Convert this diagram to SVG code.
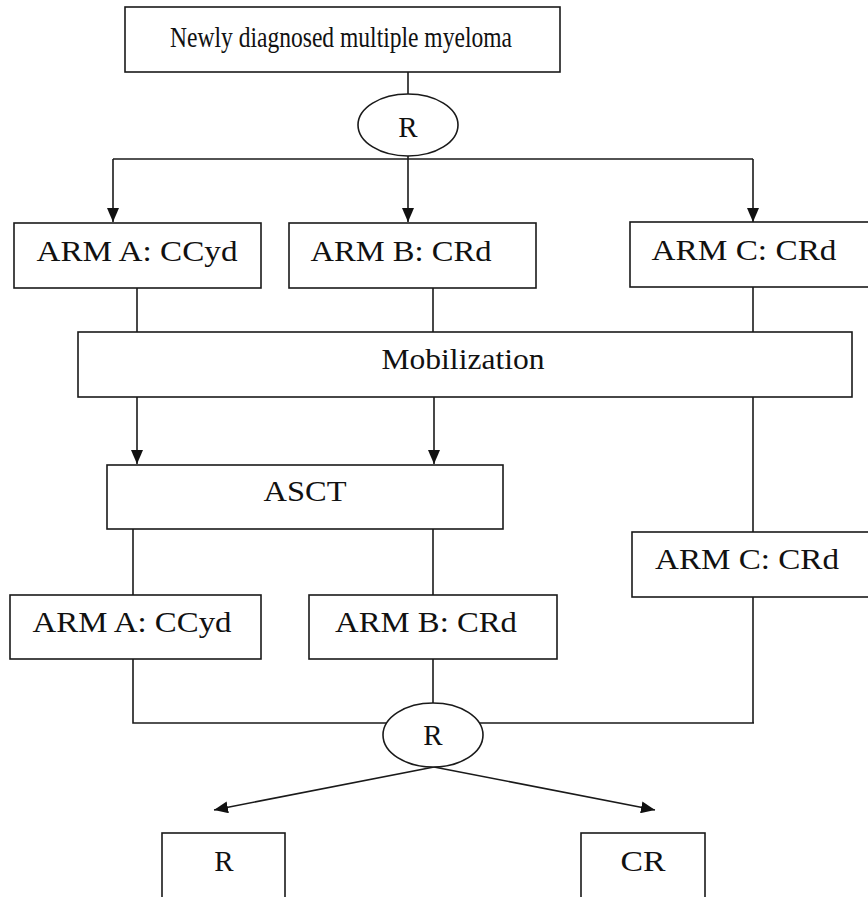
<svg xmlns="http://www.w3.org/2000/svg" width="868" height="897" viewBox="0 0 868 897">
<style>
.box{fill:#fff;stroke:#1a1a1a;stroke-width:1.6}
.ln{fill:none;stroke:#1a1a1a;stroke-width:1.6}
.t{font-family:"Liberation Serif","Times New Roman",serif;font-size:29px;fill:#111;text-anchor:middle}
</style>
<defs>
<marker id="ah" viewBox="0 0 14 12" refX="14" refY="6" markerWidth="14" markerHeight="12" markerUnits="userSpaceOnUse" orient="auto">
<path d="M0,0 L14,6 L0,12 Z" fill="#111"/>
</marker>
</defs>
<g id="connectors">
<line class="ln" x1="408" y1="72" x2="408" y2="94"/>
<line class="ln" x1="113" y1="159" x2="753" y2="159"/>
<line class="ln" x1="113" y1="159" x2="113" y2="222" marker-end="url(#ah)"/>
<line class="ln" x1="408" y1="156" x2="408" y2="222" marker-end="url(#ah)"/>
<line class="ln" x1="753" y1="159" x2="753" y2="222" marker-end="url(#ah)"/>
<line class="ln" x1="137" y1="288" x2="137" y2="332"/>
<line class="ln" x1="433" y1="288" x2="433" y2="332"/>
<line class="ln" x1="753" y1="287" x2="753" y2="332"/>
<line class="ln" x1="137" y1="397" x2="137" y2="464" marker-end="url(#ah)"/>
<line class="ln" x1="434" y1="397" x2="434" y2="464" marker-end="url(#ah)"/>
<line class="ln" x1="753" y1="397" x2="753" y2="532"/>
<line class="ln" x1="133" y1="529" x2="133" y2="595"/>
<line class="ln" x1="433" y1="529" x2="433" y2="595"/>
<line class="ln" x1="753" y1="597" x2="753" y2="723"/>
<polyline class="ln" points="133,659 133,723 754,723"/>
<line class="ln" x1="433" y1="659" x2="433" y2="703"/>
<line class="ln" x1="434" y1="767" x2="214" y2="810" marker-end="url(#ah)"/>
<line class="ln" x1="434" y1="767" x2="655" y2="810" marker-end="url(#ah)"/>
</g>
<g id="n-top"><rect class="box" x="125" y="7" width="435" height="65"/><text class="t" x="341" y="47" font-size="24" textLength="342" lengthAdjust="spacingAndGlyphs">Newly diagnosed multiple myeloma</text></g>
<g id="n-r1"><ellipse class="box" cx="408" cy="125" rx="50" ry="31"/><text class="t" x="408" y="137">R</text></g>
<g id="n-a1"><rect class="box" x="14" y="223" width="247" height="65"/><text class="t" x="137" y="261" textLength="201" lengthAdjust="spacingAndGlyphs">ARM A: CCyd</text></g>
<g id="n-b1"><rect class="box" x="289" y="223" width="247" height="65"/><text class="t" x="401" y="261" textLength="181" lengthAdjust="spacingAndGlyphs">ARM B: CRd</text></g>
<g id="n-c1"><rect class="box" x="630" y="222" width="245" height="65"/><text class="t" x="744" y="260" textLength="185" lengthAdjust="spacingAndGlyphs">ARM C: CRd</text></g>
<g id="n-mob"><rect class="box" x="78" y="332" width="774" height="65"/><text class="t" x="463" y="369" textLength="163" lengthAdjust="spacingAndGlyphs">Mobilization</text></g>
<g id="n-asct"><rect class="box" x="107" y="465" width="396" height="64"/><text class="t" x="305" y="501" textLength="83" lengthAdjust="spacingAndGlyphs">ASCT</text></g>
<g id="n-c2"><rect class="box" x="632" y="532" width="245" height="65"/><text class="t" x="747" y="569" textLength="184" lengthAdjust="spacingAndGlyphs">ARM C: CRd</text></g>
<g id="n-a2"><rect class="box" x="10" y="595" width="251" height="64"/><text class="t" x="132" y="632" textLength="199" lengthAdjust="spacingAndGlyphs">ARM A: CCyd</text></g>
<g id="n-b2"><rect class="box" x="309" y="595" width="248" height="64"/><text class="t" x="426" y="632" textLength="182" lengthAdjust="spacingAndGlyphs">ARM B: CRd</text></g>
<g id="n-r2"><ellipse class="box" cx="433" cy="735" rx="50" ry="32"/><text class="t" x="433" y="745">R</text></g>
<g id="n-r"><rect class="box" x="162" y="833" width="123" height="80"/><text class="t" x="224" y="871">R</text></g>
<g id="n-cr"><rect class="box" x="581" y="833" width="124" height="80"/><text class="t" x="643" y="871" textLength="45" lengthAdjust="spacingAndGlyphs">CR</text></g>
</svg>
